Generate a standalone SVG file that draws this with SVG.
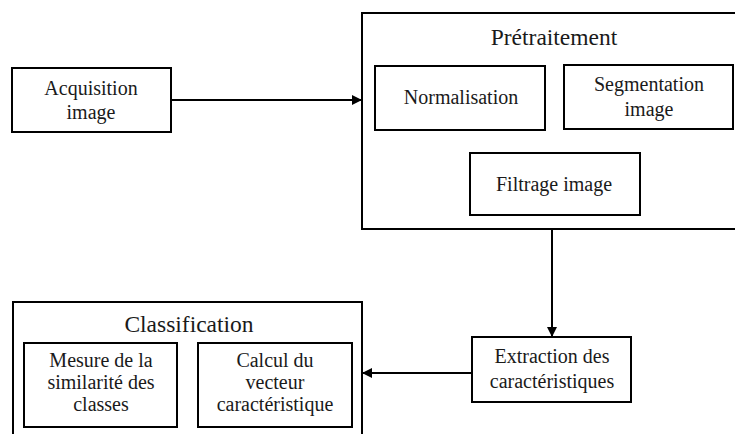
<svg xmlns="http://www.w3.org/2000/svg" width="735" height="434" viewBox="0 0 735 434">
  <style>
    .box { fill: #ffffff; stroke: #000000; stroke-width: 2; }
    text { font-family: 'Liberation Serif', 'Times New Roman', Times, 'DejaVu Serif', serif; fill: #1a1a1a; text-anchor: middle; }
    .t { font-size: 20px; }
    .title { font-size: 23.5px; }
    .conn { stroke: #000000; stroke-width: 2; fill: none; }
  </style>
  <defs>
    <marker id="arrow" viewBox="0 0 10 10" refX="10" refY="5" markerWidth="5" markerHeight="5" orient="auto" markerUnits="strokeWidth">
      <path d="M0,0 L10,5 L0,10 Z" fill="#000000"/>
    </marker>
  </defs>
  <rect width="735" height="434" fill="#ffffff"/>

  <g id="pretraitement">
    <rect class="box" x="362" y="13" width="380" height="216"/>
    <text class="title" x="554" y="45">Prétraitement</text>
  </g>
  <g id="normalisation">
    <rect class="box" x="375" y="66" width="170" height="64"/>
    <text class="t" x="461" y="104">Normalisation</text>
  </g>
  <g id="segmentation">
    <rect class="box" x="564" y="65" width="169" height="64"/>
    <text class="t" x="649" y="91">Segmentation</text>
    <text class="t" x="649" y="116">image</text>
  </g>
  <g id="filtrage">
    <rect class="box" x="470" y="153" width="170" height="62"/>
    <text class="t" x="554" y="191">Filtrage image</text>
  </g>

  <g id="acquisition">
    <rect class="box" x="12" y="68" width="159" height="64"/>
    <text class="t" x="91" y="95">Acquisition</text>
    <text class="t" x="91" y="119">image</text>
  </g>

  <g id="extraction">
    <rect class="box" x="472" y="337" width="159" height="65"/>
    <text class="t" x="552" y="363">Extraction des</text>
    <text class="t" x="552" y="388">caractéristiques</text>
  </g>

  <g id="classification">
    <path class="conn" d="M13,440 L13,302 L362,302 L362,440"/>
    <text class="title" x="189" y="332">Classification</text>
  </g>
  <g id="mesure">
    <rect class="box" x="24" y="343" width="153" height="84"/>
    <text class="t" x="101" y="367">Mesure de la</text>
    <text class="t" x="101" y="389">similarité des</text>
    <text class="t" x="101" y="411">classes</text>
  </g>
  <g id="calcul">
    <rect class="box" x="198" y="343" width="154" height="84"/>
    <text class="t" x="275" y="367">Calcul du</text>
    <text class="t" x="275" y="389">vecteur</text>
    <text class="t" x="275" y="411">caractéristique</text>
  </g>

  <g id="connectors">
    <line class="conn" x1="171" y1="100" x2="362" y2="100" marker-end="url(#arrow)"/>
    <line class="conn" x1="552" y1="229" x2="552" y2="337" marker-end="url(#arrow)"/>
    <line class="conn" x1="472" y1="373" x2="362" y2="373" marker-end="url(#arrow)"/>
  </g>
</svg>
